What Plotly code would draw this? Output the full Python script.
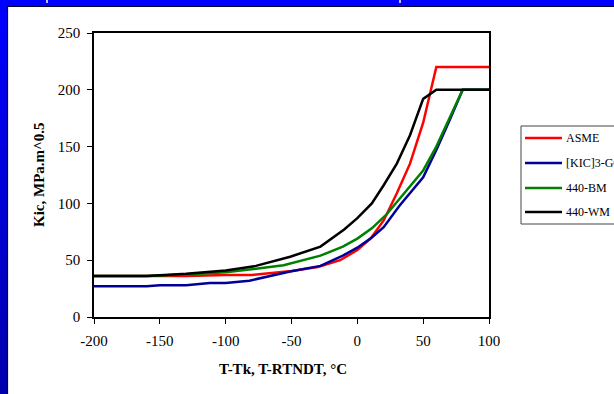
import plotly.graph_objects as go

# ---- data ----
series_names = ["ASME", "[KIC]3-GOST", "440-BM", "440-WM"]
series_colors = ["#FF0000", "#000099", "#008000", "#000000"]

asme_x = [-200, -160, -130, -100, -80, -50, -30, -13, 0, 10, 20, 30, 40, 50, 60, 100]
asme_y = [36, 36, 36, 37, 37, 40.5, 44, 50, 59, 69, 85, 109, 135, 171, 220, 220]

kic_x = [-200, -160, -150, -130, -112, -100, -82, -51, -28, -11, 0, 11, 20, 32, 50, 60, 70, 80, 100]
kic_y = [27, 27, 28, 28, 30, 30, 32, 40, 45, 54, 61, 70, 79, 98, 123, 147, 173, 200, 200]

bm_x = [-200, -160, -130, -100, -77, -56, -28, -11, 0, 11, 22, 35, 50, 60, 70, 80, 100]
bm_y = [36, 36, 37.5, 39.5, 42.5, 45.5, 54, 62, 69, 78, 90, 108, 129, 150, 175, 200, 200]

wm_x = [-200, -160, -130, -100, -77, -51, -28, -21, -10, 0, 11, 20, 30, 40, 50, 60, 100]
wm_y = [36, 36, 38, 41, 45, 53, 62, 68, 77, 87, 100, 116, 135, 160, 192, 200, 200]

x_ticks = [-200, -150, -100, -50, 0, 50, 100]
y_ticks = [0, 50, 100, 150, 200, 250]

xs = [asme_x, kic_x, bm_x, wm_x]
ys = [asme_y, kic_y, bm_y, wm_y]

# ---- geometry (pixels) ----
W, H = 614, 394
L, R, T, B = 94, 489, 33, 317


def px(x):
    return (x - L) / (R - L)


def py(y):
    return (B - y) / (B - T)


fig = go.Figure()
for name, color, x, y in zip(series_names, series_colors, xs, ys):
    fig.add_trace(go.Scatter(x=x, y=y, mode="lines", name=name,
                             line=dict(color=color, width=2.5), showlegend=False))

serif = "Liberation Serif, Times New Roman, serif"

shapes = []
annotations = []

# blue frame: top band and left band with gradient
shapes.append(dict(type="rect", xref="paper", yref="paper", x0=px(0), x1=px(W + 5),
                   y0=py(6), y1=py(-2), fillcolor="#0000FF", line=dict(width=0), layer="above"))
n = 24
for i in range(n):
    y0p = i * (H / n)
    y1p = (i + 1) * (H / n) + 1
    frac = i / (n - 1)
    b = int(255 - frac * 80)
    shapes.append(dict(type="rect", xref="paper", yref="paper", x0=px(-2), x1=px(7),
                       y0=py(y1p), y1=py(y0p), fillcolor=f"rgb(0,0,{b})",
                       line=dict(width=0), layer="above"))
shapes.append(dict(type="line", xref="paper", yref="paper", x0=px(7), x1=px(W + 5),
                   y0=py(6.5), y1=py(6.5), line=dict(color="#000033", width=1), layer="above"))
shapes.append(dict(type="line", xref="paper", yref="paper", x0=px(7.5), x1=px(7.5),
                   y0=py(6), y1=py(H + 2), line=dict(color="#000033", width=1.2), layer="above"))
for tx in [47, 400]:
    shapes.append(dict(type="line", xref="paper", yref="paper", x0=px(tx), x1=px(tx),
                       y0=py(0), y1=py(3), line=dict(color="#FFFFFF", width=1.5), layer="above"))

# manual legend
leg_left, leg_top, leg_bottom = 521, 126, 224
shapes.append(dict(type="rect", xref="paper", yref="paper", x0=px(leg_left), x1=px(W + 10),
                   y0=py(leg_bottom), y1=py(leg_top), fillcolor="white",
                   line=dict(color="#444444", width=1)))
row_y = [138, 163, 188, 212]
for name, color, ry in zip(series_names, series_colors, row_y):
    shapes.append(dict(type="line", xref="paper", yref="paper", x0=px(525), x1=px(562),
                       y0=py(ry), y1=py(ry), line=dict(color=color, width=2.5)))
    annotations.append(dict(xref="paper", yref="paper", x=px(564), y=py(ry), text=name,
                            showarrow=False, xanchor="left", yanchor="middle",
                            font=dict(family=serif, size=12, color="black")))

# axis titles
annotations.append(dict(xref="paper", yref="paper", x=px(283), y=py(369),
                        text="<b>T-Tk, T-RTNDT, °C</b>", showarrow=False,
                        xanchor="center", yanchor="middle",
                        font=dict(family=serif, size=15, color="black")))
annotations.append(dict(xref="paper", yref="paper", x=px(39), y=py(175),
                        text="<b>Kic, MPa.m^0.5</b>", showarrow=False, textangle=-90,
                        xanchor="center", yanchor="middle",
                        font=dict(family=serif, size=15, color="black")))

fig.update_layout(
    width=W, height=H,
    margin=dict(l=L, r=W - R, t=T, b=H - B, pad=0),
    paper_bgcolor="white", plot_bgcolor="white",
    shapes=shapes, annotations=annotations,
    showlegend=False,
    xaxis=dict(range=[-200, 100], tickvals=x_ticks, ticktext=[str(v) for v in x_ticks],
               showgrid=False, zeroline=False, showline=True, linecolor="black", linewidth=1.5,
               mirror=True, ticks="outside", ticklen=5, tickcolor="black",
               ticklabelstandoff=4,
               tickfont=dict(family=serif, size=15, color="black")),
    yaxis=dict(range=[0, 250], tickvals=y_ticks, ticktext=[str(v) for v in y_ticks],
               showgrid=False, zeroline=False, showline=True, linecolor="black", linewidth=1.5,
               mirror=True, ticks="outside", ticklen=5, tickcolor="black",
               ticklabelstandoff=4,
               tickfont=dict(family=serif, size=15, color="black")),
)

fig.write_html("out.html", config={"displayModeBar": False},
               post_script="document.body.style.margin='0';")
